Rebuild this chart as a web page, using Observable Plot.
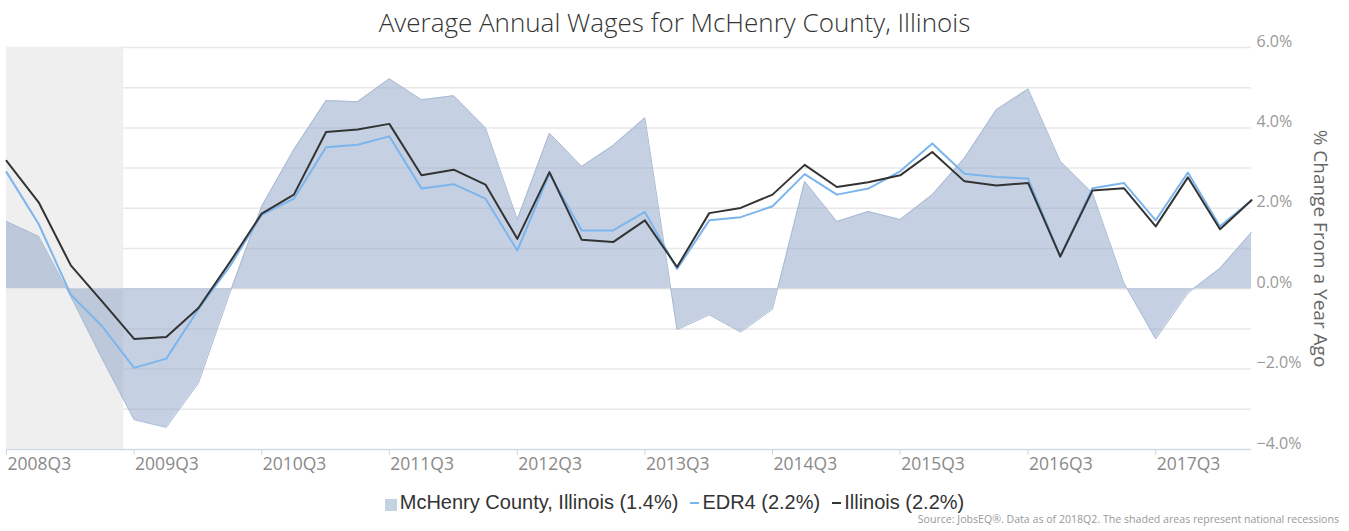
<!DOCTYPE html>
<html>
<head>
<meta charset="utf-8">
<script src="https://cdn.jsdelivr.net/npm/d3@7"></script>
<script src="https://cdn.jsdelivr.net/npm/@observablehq/plot@0.6"></script>
<style>
  html, body { margin: 0; padding: 0; background: #fff; }
  #wrap { position: relative; width: 1349px; height: 531px; overflow: hidden; }
  #title { position: absolute; left: 0; top: 0; width: 1349px; height: 44px; line-height: 44px; text-align: center;
    font-family: "Open Sans", sans-serif; font-weight: 300; font-size: 26px; color: #333; z-index: 2; }
  #chart { position: absolute; left: 0; top: 25px; z-index: 1; }
  #legend { position: absolute; left: 0; top: 489px; width: 1349px; height: 26px; display: flex; justify-content: center; align-items: center;
    font-family: "Liberation Sans", Arial, sans-serif; font-size: 20px; color: #333; }
  .item { display: flex; align-items: center; margin: 0 6px; }
  .sw { display: inline-block; margin-right: 3px; }
  #source { position: absolute; right: 10px; top: 512px; font-family: "Open Sans", sans-serif; font-size: 10.6px; color: #999; }
</style>
</head>
<body>
<div id="wrap">
  <div id="title"></div>
  <div id="chart"></div>
  <div id="legend"></div>
  <div id="source"></div>
</div>
<script>
const titleText = "Average Annual Wages for McHenry County, Illinois";
const yAxisTitle = "% Change From a Year Ago";
const sourceText = "Source: JobsEQ®. Data as of 2018Q2. The shaded areas represent national recessions";

const quarters = ["2008Q3","2008Q4","2009Q1","2009Q2","2009Q3","2009Q4","2010Q1","2010Q2",
  "2010Q3","2010Q4","2011Q1","2011Q2","2011Q3","2011Q4","2012Q1","2012Q2",
  "2012Q3","2012Q4","2013Q1","2013Q2","2013Q3","2013Q4","2014Q1","2014Q2",
  "2014Q3","2014Q4","2015Q1","2015Q2","2015Q3","2015Q4","2016Q1","2016Q2",
  "2016Q3","2016Q4","2017Q1","2017Q2","2017Q3","2017Q4","2018Q1","2018Q2"];

const mchenry = [1.67,1.30,-0.20,-1.75,-3.26,-3.45,-2.35,-0.10,2.05,3.46,4.68,4.65,5.22,4.70,4.80,4.00,
  1.72,3.87,3.04,3.56,4.25,-1.02,-0.65,-1.08,-0.51,2.67,1.67,1.92,1.72,2.34,3.25,4.45,
  4.97,3.17,2.38,0.14,-1.25,-0.11,0.51,1.40];
const edr4 = [2.90,1.61,-0.15,-0.94,-1.97,-1.74,-0.51,0.56,1.84,2.24,3.52,3.58,3.79,2.49,2.60,2.24,
  0.95,2.86,1.45,1.45,1.91,0.49,1.70,1.78,2.05,2.85,2.34,2.49,2.92,3.61,2.86,2.78,
  2.74,0.80,2.50,2.63,1.70,2.89,1.55,2.20];
const illinois = [3.18,2.15,0.58,-0.32,-1.25,-1.20,-0.48,0.66,1.87,2.34,3.90,3.96,4.10,2.82,2.96,2.59,
  1.24,2.90,1.22,1.16,1.70,0.54,1.88,2.01,2.34,3.08,2.53,2.65,2.82,3.40,2.67,2.57,
  2.63,0.80,2.44,2.50,1.55,2.77,1.48,2.20];

const seriesNames = ["McHenry County, Illinois (1.4%)", "EDR4 (2.2%)", "Illinois (2.2%)"];
const seriesColors = ["#8ba4c6", "#7cb5ec", "#333333"];

const xTickLabels = ["2008Q3","2009Q3","2010Q3","2011Q3","2012Q3","2013Q3","2014Q3","2015Q3","2016Q3","2017Q3"];
const yTicks = [-4, -2, 0, 2, 4, 6];
const yGrid = [-4, -3, -2, -1, 0, 1, 2, 3, 4, 5, 6];
const recessions = [{start: "2007-12-01", end: "2009-06-01"}];

const qDate = q => new Date(Date.UTC(+q.slice(0, 4), (+q.slice(5) - 1) * 3, 1));
const data = quarters.map((q, i) => ({date: qDate(q), mchenry: mchenry[i], edr4: edr4[i], illinois: illinois[i]}));
const xDomain = [data[0].date, data[data.length - 1].date];
const tickDates = xTickLabels.map(qDate);
const fmtPct = d => (d < 0 ? "\u2212" : "") + Math.abs(d).toFixed(1) + "%";

document.getElementById("title").textContent = titleText;
document.getElementById("source").textContent = sourceText;

const plot = Plot.plot({
  width: 1349,
  height: 455,
  marginLeft: 6,
  marginRight: 98,
  marginTop: 22,
  marginBottom: 31,
  style: {fontFamily: "'Open Sans', sans-serif", background: "transparent"},
  x: {type: "utc", domain: xDomain},
  y: {domain: [-4, 6]},
  marks: [
    Plot.ruleY(yGrid, {stroke: "#e8e8e8", strokeWidth: 1.5}),
    Plot.rect(recessions, {x1: d => new Date(d.start), x2: d => new Date(d.end), fill: "#efefef", clip: true}),
    Plot.areaY(data, {x: "date", y: "mchenry", fill: seriesColors[0], fillOpacity: 0.5}),
    Plot.lineY(data, {x: "date", y: "mchenry", stroke: "#a9bbd4", strokeWidth: 1}),
    Plot.lineY(data, {x: "date", y: "edr4", stroke: seriesColors[1], strokeWidth: 2}),
    Plot.lineY(data, {x: "date", y: "illinois", stroke: seriesColors[2], strokeWidth: 2}),
    Plot.ruleY([-4], {stroke: "#ccd6eb", strokeWidth: 1}),
    Plot.axisX({ticks: tickDates, tickSize: 6, tickFormat: () => "", color: "#ccd6eb"}),
    Plot.axisX({ticks: tickDates, tickSize: 0, tickPadding: 8, tickFormat: (d, i) => xTickLabels[i],
      textAnchor: "start", dx: 1, fontSize: 17.5, color: "#8a8a8a"}),
    Plot.axisY({anchor: "right", ticks: yTicks, tickSize: 0, tickPadding: 5, dy: -6, tickFormat: fmtPct,
      fontSize: 16, color: "#999", label: null}),
    Plot.text([yAxisTitle], {frameAnchor: "right", dx: 69, rotate: 90, textAnchor: "middle", text: d => d, fontSize: 19, fill: "#666"})
  ]
});
document.getElementById("chart").appendChild(plot);

const legend = document.getElementById("legend");
seriesNames.forEach((name, i) => {
  const item = document.createElement("span");
  item.className = "item";
  const sw = document.createElement("span");
  sw.className = "sw";
  if (i === 0) {
    sw.style.width = "12px"; sw.style.height = "12px"; sw.style.background = "#c5d2e2"; sw.style.marginTop = "6px";
  } else {
    sw.style.width = "9px"; sw.style.height = "2px"; sw.style.background = seriesColors[i]; sw.style.marginTop = "2px";
  }
  const t = document.createElement("span");
  t.textContent = name;
  item.appendChild(sw); item.appendChild(t);
  legend.appendChild(item);
});
</script>
</body>
</html>
